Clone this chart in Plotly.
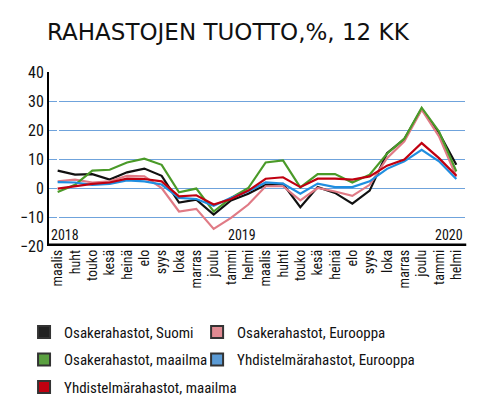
import plotly.graph_objects as go

# kuukaudet maaliskuu 2018 - helmikuu 2020
months = ["maalis", "huht", "touko", "kesä", "heinä", "elo", "syys", "loka",
          "marras", "joulu", "tammi", "helmi",
          "maalis", "huhti", "touko", "kesä", "heinä", "elo", "syys", "loka",
          "marras", "joulu", "tammi", "helmi"]

osake_suomi = [6.0, 4.6, 4.8, 2.9, 5.4, 6.7, 4.2, -5.0, -4.0, -9.2, -4.3, -2.0,
               1.1, 1.4, -6.6, 0.3, -1.7, -5.4, -0.9, 12.0, 16.9, 27.3, 19.0, 8.0]
osake_eurooppa = [2.3, 2.9, 1.9, 2.3, 4.2, 4.0, 0.0, -8.1, -7.2, -14.1, -10.3, -5.7,
                  0.6, 0.6, -4.3, 0.0, -1.2, -2.7, 1.1, 10.3, 16.1, 27.0, 17.8, 3.9]
osake_maailma = [-1.4, 1.1, 6.0, 6.3, 8.8, 10.1, 8.0, -1.5, -0.2, -8.1, -3.4, 0.0,
                 8.8, 9.5, 0.2, 4.8, 4.8, 1.9, 4.6, 11.8, 17.0, 27.7, 19.5, 5.7]
yhd_eurooppa = [2.0, 1.9, 1.1, 1.4, 2.6, 2.3, 1.2, -3.4, -3.8, -6.1, -3.4, -1.1,
                1.9, 1.5, -2.0, 1.5, 0.3, 0.3, 2.3, 6.6, 9.2, 13.2, 9.2, 3.1]
yhd_maailma = [-0.2, 0.6, 1.4, 1.9, 3.2, 3.1, 2.3, -2.9, -2.5, -5.7, -3.8, -0.9,
               3.2, 3.7, 0.3, 3.2, 3.2, 2.9, 4.0, 7.7, 9.8, 15.5, 10.3, 4.2]

years = ["2018", "2019", "2020"]

# name, data, line colour, legend colour, legend column
series = [
    ("Osakerahastot, Suomi", osake_suomi, "#111111", "#222222", "legend"),
    ("Osakerahastot, Eurooppa", osake_eurooppa, "#e07a85", "#e08a92", "legend2"),
    ("Osakerahastot, maailma", osake_maailma, "#4a9a28", "#5aa040", "legend"),
    ("Yhdistelmärahastot, Eurooppa", yhd_eurooppa, "#1f8ee0", "#5b9bd5", "legend2"),
    ("Yhdistelmärahastot, maailma", yhd_maailma, "#c00010", "#c00010", "legend"),
]

x_idx = list(range(len(months)))
fig = go.Figure()
for name, vals, col, leg_col, leg in series:
    fig.add_trace(go.Scatter(x=x_idx, y=vals, mode="lines", name=name,
                             line=dict(color=col, width=2.2), showlegend=False))
for name, vals, col, leg_col, leg in series:
    # legend-only square
    fig.add_trace(go.Scatter(x=[None], y=[None], mode="markers", name=name,
                             legend=leg, legendgroup=name,
                             marker=dict(symbol="square", size=11, color=leg_col,
                                         line=dict(color="#333333", width=0.8))))

cond = "Roboto Condensed, DejaVu Sans Condensed, Roboto"
leg_font = dict(family=cond, size=15, color="#111111")

# the page has an 8px body margin, so the figure is 8px smaller than the window
fig.update_layout(
    width=492, height=408,
    margin=dict(l=37, r=35, t=64, b=170),
    paper_bgcolor="white", plot_bgcolor="white",
    title=dict(text="RAHASTOJEN TUOTTO,%, 12 KK", x=0.0793, xanchor="left",
               xref="container", y=0.941, yanchor="middle", pad=dict(l=0),
               font=dict(family="DejaVu Sans", size=23, color="#111111")),
    xaxis=dict(tickmode="array", tickvals=x_idx, ticktext=months,
               range=[-0.5, len(months) - 0.5], tickangle=-90,
               showgrid=False, showline=False, ticks="",
               tickfont=dict(family=cond, size=14, color="#111111")),
    yaxis=dict(range=[-20, 40], dtick=10, showgrid=True,
               gridcolor="#6fa3dc", gridwidth=1.3, zeroline=False,
               showline=True, linecolor="black", linewidth=2,
               ticks="", tickfont=dict(family=cond, size=16, color="#111111")),
    legend=dict(orientation="v", x=-0.060, xanchor="left", y=-0.4005, yanchor="top",
                tracegroupgap=5, font=leg_font, itemsizing="constant",
                bgcolor="rgba(0,0,0,0)"),
    legend2=dict(orientation="v", x=0.356, xanchor="left", y=-0.4005, yanchor="top",
                 tracegroupgap=5, font=leg_font, itemsizing="constant",
                 bgcolor="rgba(0,0,0,0)"),
    showlegend=True,
)

# thick bottom axis bar
fig.add_shape(type="line", xref="paper", yref="y", x0=0, x1=1.003, y0=-20, y1=-20,
              line=dict(color="black", width=5))

year_pos = [(-0.5, "left"), (9.7, "left"), (23.5, "right")]
for yr, (xp, anc) in zip(years, year_pos):
    fig.add_annotation(x=xp, y=-16.2, xref="x", yref="y", text=yr, showarrow=False,
                       xanchor=anc, yanchor="middle",
                       font=dict(family=cond, size=14, color="#111111"))

fig.write_html("out.html")
